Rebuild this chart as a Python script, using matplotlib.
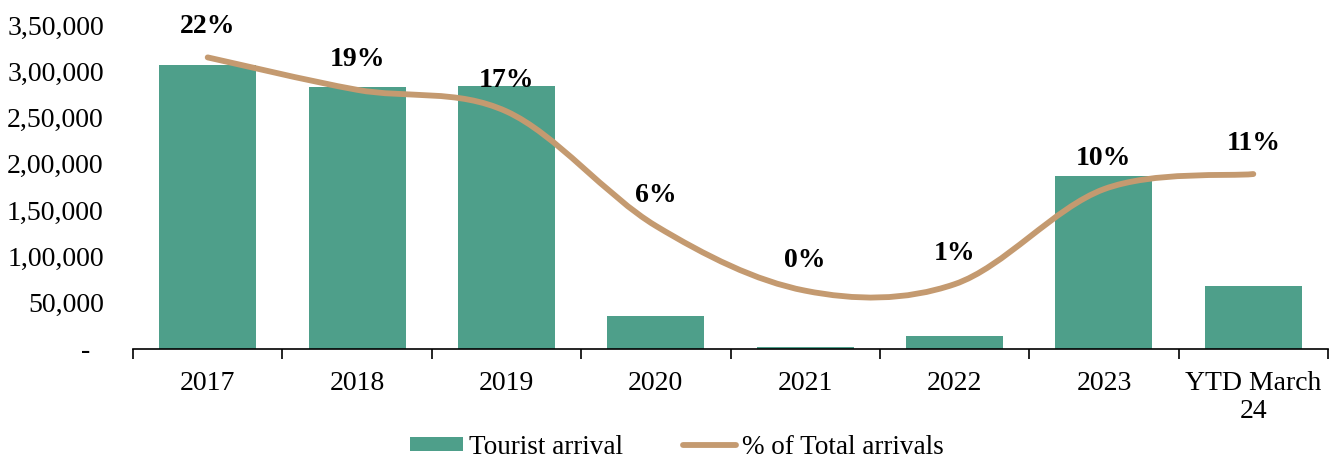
import matplotlib.pyplot as plt
import numpy as np
from matplotlib.path import Path
from matplotlib.patches import PathPatch
from matplotlib.lines import Line2D
from matplotlib.ticker import FuncFormatter

plt.rcParams['font.family'] = ['Liberation Serif', 'DejaVu Serif']
plt.rcParams['font.size'] = 20

years = ['2017', '2018', '2019', '2020', '2021', '2022', '2023', 'YTD March\n24']
arrivals = [306800, 283300, 284100, 35600, 2500, 14000, 186900, 68000]
share_pct = [22.0, 19.0, 17.0, 6.4, 0.4, 1.0, 9.8, 11.2]

bar_color = '#4E9F8A'
line_color = '#C49A70'


def indian_fmt(v, pos=None):
    v = int(round(v))
    if v == 0:
        return '-  '
    s = str(v)
    if len(s) <= 3:
        return s
    head, tail = s[:-3], s[-3:]
    groups = []
    while len(head) > 2:
        groups.insert(0, head[-2:])
        head = head[:-2]
    if head:
        groups.insert(0, head)
    return ','.join(groups) + ',' + tail


def smooth_path(xs, ys):
    # cubic bezier through every point (catmull-rom style tangents)
    pts = list(zip(xs, ys))
    n = len(pts)
    verts = [pts[0]]
    codes = [Path.MOVETO]
    for i in range(n - 1):
        p0 = pts[max(i - 1, 0)]
        p1 = pts[i]
        p2 = pts[i + 1]
        p3 = pts[min(i + 2, n - 1)]
        c1 = (p1[0] + (p2[0] - p0[0]) / 6, p1[1] + (p2[1] - p0[1]) / 6)
        c2 = (p2[0] - (p3[0] - p1[0]) / 6, p2[1] - (p3[1] - p1[1]) / 6)
        verts += [c1, c2, p2]
        codes += [Path.CURVE4] * 3
    return Path(verts, codes)


fig = plt.figure(figsize=(13.35, 4.59), dpi=100)
ax = fig.add_axes([133 / 1335, 110 / 459, 1195 / 1335, 324 / 459])

x = np.arange(len(years))
bars = ax.bar(x, arrivals, width=0.65, color=bar_color, zorder=2)

ax.set_xlim(-0.5, len(years) - 0.5)
ax.set_ylim(0, 350000)
ax.set_yticks(np.arange(0, 350001, 50000))
ax.yaxis.set_major_formatter(FuncFormatter(indian_fmt))
ax.tick_params(axis='y', length=0, pad=21)

ax.set_xticks(x)
ax.set_xticklabels(years)
ax.tick_params(axis='x', which='major', length=0, pad=15.5)
ax.set_xticks(np.arange(-0.5, len(years)), minor=True)
ax.tick_params(axis='x', which='minor', length=7, width=1.2, direction='out', color='black')

for side in ['top', 'right', 'left']:
    ax.spines[side].set_visible(False)
ax.spines['bottom'].set_linewidth(1.2)

ax2 = ax.twinx()
ax2.set_ylim(-5, 25)
ax2.axis('off')
ax2.set_xlim(ax.get_xlim())

curve = PathPatch(smooth_path(x, share_pct), fill=False, edgecolor=line_color,
                  linewidth=4.2, capstyle='round', joinstyle='round',
                  transform=ax2.transData, zorder=3)
ax2.add_patch(curve)

for xi, p in zip(x, share_pct):
    ax2.annotate(f'{p:.0f}%', (xi, p), xytext=(0, 22), textcoords='offset points',
                 ha='center', va='center', fontweight='bold', fontsize=20)

handles = [bars, Line2D([], [], color=line_color, linewidth=4.2, solid_capstyle='round')]
fig.legend(handles, ['Tourist arrival', '% of Total arrivals'], loc='center',
           bbox_to_anchor=(0.507, 0.026), ncol=2, frameon=False,
           handlelength=1.95, handleheight=0.4, handletextpad=0.2,
           columnspacing=2.25, fontsize=19.5, borderpad=0.1)

fig.savefig('out.png', dpi=100)
